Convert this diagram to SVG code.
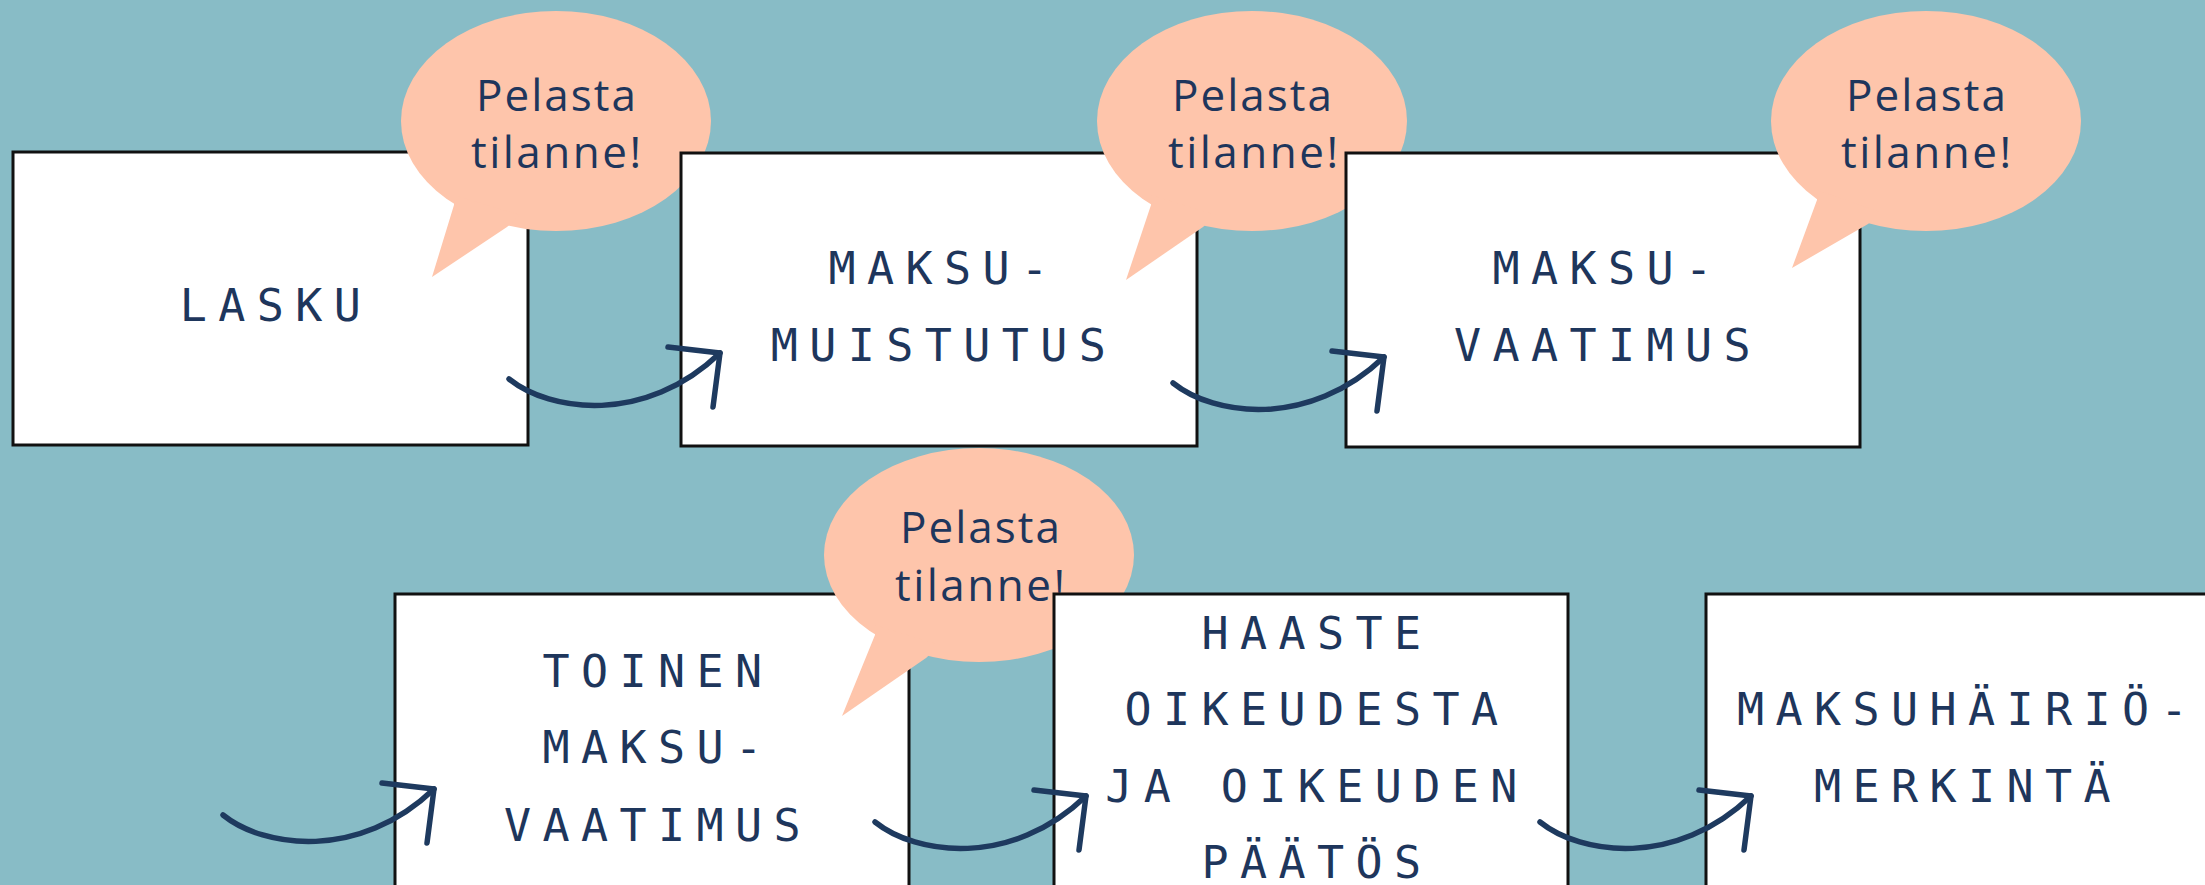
<svg xmlns="http://www.w3.org/2000/svg" width="2205" height="885" viewBox="0 0 2205 885">
<defs>
<style>
.box{fill:#ffffff;stroke:#111111;stroke-width:3}
.lbl{font-family:"DejaVu Sans Mono","Liberation Mono",monospace;font-size:45px;letter-spacing:11.4px;fill:#1e365c;text-anchor:middle}
.bub{fill:#fec5ab}
.btxt{font-family:"Open Sans","Noto Sans",sans-serif;font-size:44px;fill:#1e365c;text-anchor:middle}
.arr{fill:none;stroke:#1e3a5f;stroke-width:5.5;stroke-linecap:round;stroke-linejoin:round}
</style>
<g id="arrowshape">
<path class="arr" d="M509,379 C550,412 645,425 720,353"/>
<polyline class="arr" points="668,347 720,353 713,407"/>
</g>
</defs>
<rect x="0" y="0" width="2205" height="885" fill="#88bcc6"/>

<g id="node-lasku">
<rect class="box" x="13" y="152" width="515" height="293"/>
<text class="lbl" x="276" y="321">LASKU</text>
</g>

<g id="bubble-1">
<ellipse class="bub" cx="556" cy="121" rx="155" ry="110"/>
<polygon class="bub" points="454,195 454,205 432,277 507,227 520,215"/>
<text class="btxt" x="556" y="111" textLength="160" lengthAdjust="spacing">Pelasta</text>
<text class="btxt" x="556" y="168" textLength="170" lengthAdjust="spacing">tilanne!</text>
</g>

<g id="node-maksumuistutus">
<rect class="box" x="681" y="153" width="516" height="293"/>
<text class="lbl" x="944" y="284">MAKSU-</text>
<text class="lbl" x="944" y="361">MUISTUTUS</text>
</g>

<g id="bubble-2">
<ellipse class="bub" cx="1252" cy="121" rx="155" ry="110"/>
<polygon class="bub" points="1151,195 1151,205 1126,280 1203,227 1216,215"/>
<text class="btxt" x="1252" y="111" textLength="160" lengthAdjust="spacing">Pelasta</text>
<text class="btxt" x="1253" y="168" textLength="170" lengthAdjust="spacing">tilanne!</text>
</g>

<g id="node-maksuvaatimus">
<rect class="box" x="1346" y="153" width="514" height="294"/>
<text class="lbl" x="1608" y="284">MAKSU-</text>
<text class="lbl" x="1608" y="361">VAATIMUS</text>
</g>

<g id="bubble-3">
<ellipse class="bub" cx="1926" cy="121" rx="155" ry="110"/>
<polygon class="bub" points="1817,190 1817,200 1792,268 1868,224 1880,212"/>
<text class="btxt" x="1926" y="111" textLength="160" lengthAdjust="spacing">Pelasta</text>
<text class="btxt" x="1926" y="168" textLength="170" lengthAdjust="spacing">tilanne!</text>
</g>

<g id="node-toinen-maksuvaatimus">
<rect class="box" x="395" y="594" width="514" height="320"/>
<text class="lbl" x="658" y="687">TOINEN</text>
<text class="lbl" x="658" y="763">MAKSU-</text>
<text class="lbl" x="658" y="841">VAATIMUS</text>
</g>

<g id="bubble-4">
<ellipse class="bub" cx="979" cy="555" rx="155" ry="107"/>
<polygon class="bub" points="875,625 875,635 842,716 926,658 940,645"/>
<text class="btxt" x="980" y="543" textLength="160" lengthAdjust="spacing">Pelasta</text>
<text class="btxt" x="980" y="601" textLength="170" lengthAdjust="spacing">tilanne!</text>
</g>

<g id="node-haaste">
<rect class="box" x="1054" y="594" width="514" height="320"/>
<text class="lbl" x="1317" y="649">HAASTE</text>
<text class="lbl" x="1317" y="725">OIKEUDESTA</text>
<text class="lbl" x="1317" y="802">JA OIKEUDEN</text>
<text class="lbl" x="1317" y="878">PÄÄTÖS</text>
</g>

<g id="node-maksuhairiomerkinta">
<rect class="box" x="1706" y="594" width="520" height="320"/>
<text class="lbl" x="1968" y="725">MAKSUHÄIRIÖ-</text>
<text class="lbl" x="1968" y="802">MERKINTÄ</text>
</g>

<g id="connectors">
<use href="#arrowshape"/>
<use href="#arrowshape" transform="translate(664,4)"/>
<use href="#arrowshape" transform="translate(-286,436)"/>
<use href="#arrowshape" transform="translate(366,443)"/>
<use href="#arrowshape" transform="translate(1031,443)"/>
</g>
</svg>
